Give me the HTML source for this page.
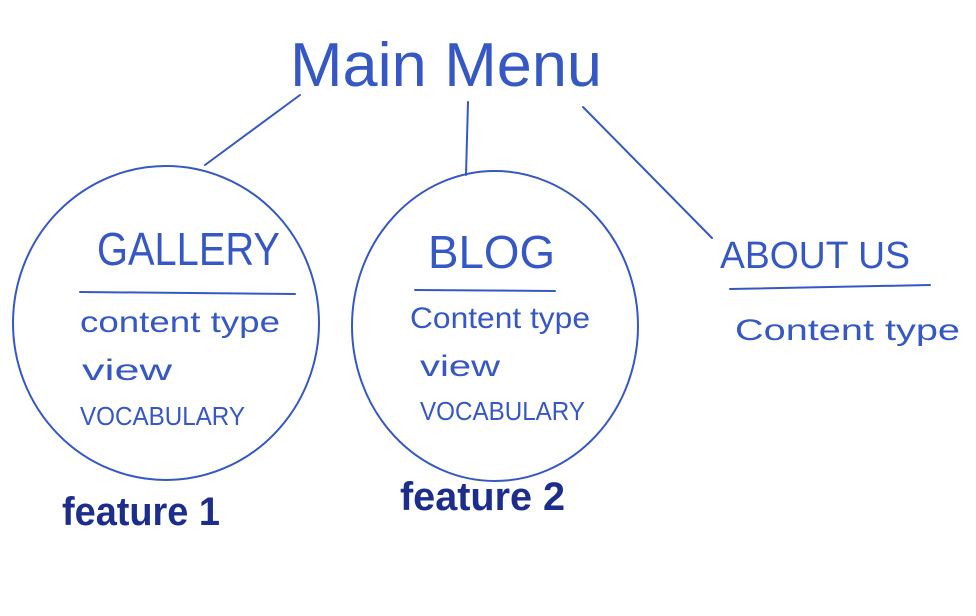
<!DOCTYPE html>
<html><head><meta charset="utf-8"><style>
html,body{margin:0;padding:0;background:#fff;width:976px;height:616px;overflow:hidden}
svg{display:block}
text{font-family:"Liberation Sans",sans-serif;fill:#3558c4}
.b{fill:#1c2d8c;font-weight:bold}
</style></head><body>
<svg width="976" height="616" viewBox="0 0 976 616">
<g stroke="#3558c4" stroke-width="2" fill="none" stroke-linecap="round">
<path d="M300 95 L205 165"/>
<path d="M468 102 L466 175"/>
<path d="M583 107 L712 238"/>
<ellipse cx="166" cy="323" rx="153" ry="157"/>
<ellipse cx="495" cy="326" rx="143" ry="155"/>
<path d="M80 292 L295 294"/>
<path d="M415 290 L555 291"/>
<path d="M730 289 L930 285"/>
</g>
<text x="290" y="86" font-size="62" textLength="312" lengthAdjust="spacingAndGlyphs">Main Menu</text>
<text x="97" y="265" font-size="46" textLength="183" lengthAdjust="spacingAndGlyphs">GALLERY</text>
<text x="80" y="332" font-size="30" textLength="200" lengthAdjust="spacingAndGlyphs">content type</text>
<text x="82" y="380" font-size="30" textLength="90" lengthAdjust="spacingAndGlyphs">view</text>
<text x="80" y="425" font-size="26" textLength="165" lengthAdjust="spacingAndGlyphs">VOCABULARY</text>
<text x="428" y="268" font-size="46" textLength="127" lengthAdjust="spacingAndGlyphs">BLOG</text>
<text x="410" y="328" font-size="30" textLength="180" lengthAdjust="spacingAndGlyphs">Content type</text>
<text x="420" y="376" font-size="30" textLength="80" lengthAdjust="spacingAndGlyphs">view</text>
<text x="420" y="420" font-size="26" textLength="165" lengthAdjust="spacingAndGlyphs">VOCABULARY</text>
<text x="720" y="268" font-size="38" textLength="190" lengthAdjust="spacingAndGlyphs">ABOUT US</text>
<text x="735" y="340" font-size="30" textLength="225" lengthAdjust="spacingAndGlyphs">Content type</text>
<text class="b" x="62" y="525" font-size="40" textLength="158" lengthAdjust="spacingAndGlyphs">feature 1</text>
<text class="b" x="400" y="510" font-size="40" textLength="165" lengthAdjust="spacingAndGlyphs">feature 2</text>
</svg>
</body></html>
